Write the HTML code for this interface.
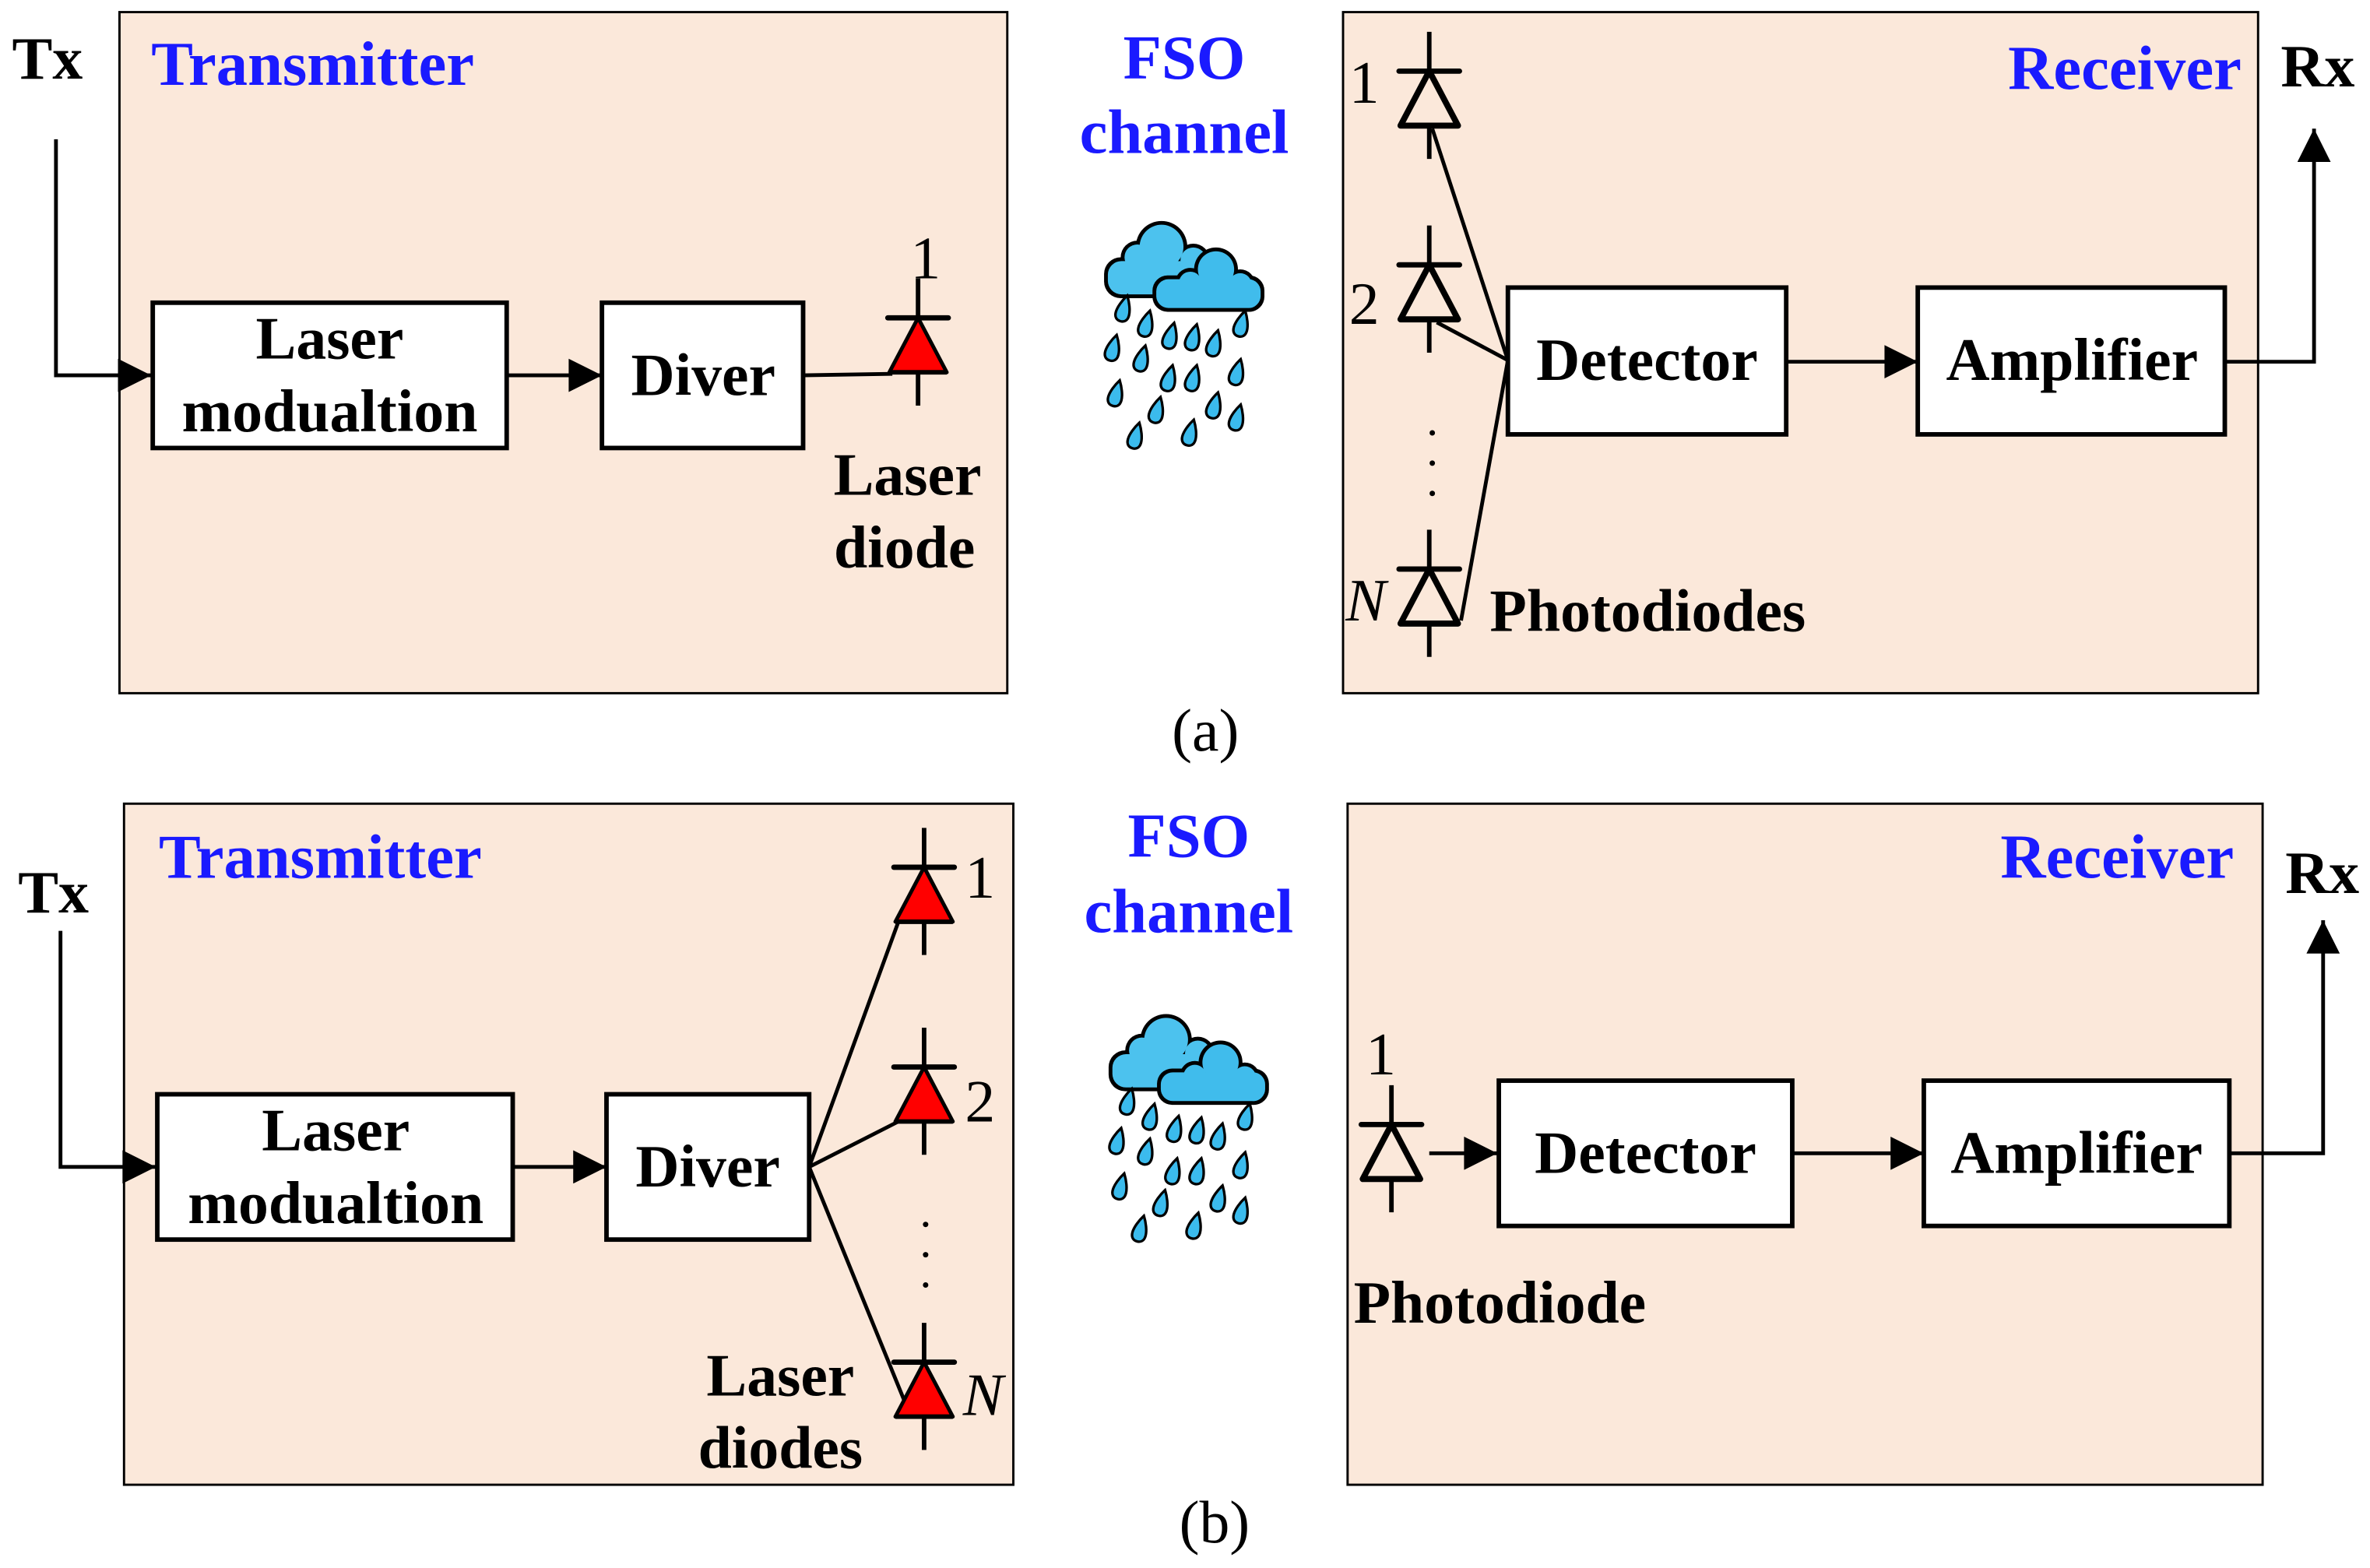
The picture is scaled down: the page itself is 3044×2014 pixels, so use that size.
<!DOCTYPE html>
<html><head><meta charset="utf-8"><style>
html,body{margin:0;padding:0;background:#fff;}
svg{display:block}
text{font-family:"Liberation Serif",serif;}
.b{font-weight:bold;font-size:40px;fill:#000}
.bl{font-weight:bold;font-size:41.5px;fill:#1a1aff}
.n{font-size:40px;fill:#000}
</style></head><body>
<svg width="3044" height="2014" viewBox="0 0 1567 1036" preserveAspectRatio="none" xmlns="http://www.w3.org/2000/svg">
<defs>
<marker id="ah" viewBox="0 0 10 10" refX="10" refY="5" markerWidth="32" markerHeight="22" markerUnits="userSpaceOnUse" orient="auto"><path d="M0,0L10,5L0,10z" fill="#000"/></marker>
<g id="dw"><line x1="0" y1="-26" x2="0" y2="0" stroke="#000" stroke-width="3"/><line x1="-20" y1="0" x2="20" y2="0" stroke="#000" stroke-width="3.5" stroke-linecap="round"/><path d="M0,0L-19,36L19,36z" fill="none" stroke="#000" stroke-width="4" stroke-linejoin="round"/><line x1="0" y1="36" x2="0" y2="58" stroke="#000" stroke-width="3"/></g>
<g id="dr"><line x1="0" y1="-26" x2="0" y2="0" stroke="#000" stroke-width="3"/><path d="M0,0L-19,36L19,36z" fill="#ff0000" stroke="#000" stroke-width="2.5" stroke-linejoin="round"/><line x1="-20" y1="0" x2="20" y2="0" stroke="#000" stroke-width="3.5" stroke-linecap="round"/><line x1="-19" y1="36" x2="19" y2="36" stroke="#000" stroke-width="3"/><line x1="0" y1="36" x2="0" y2="58" stroke="#000" stroke-width="3"/></g>
<g id="drop"><path d="M0,-9 C2.5,-5 4.5,0 4.5,3.5 C4.5,7 2.5,8.5 0,8.5 C-2.5,8.5 -4.5,7 -4.5,3.5 C-4.5,0 -2.5,-5 0,-9z" transform="rotate(15)" fill="#3bbbed" stroke="#000" stroke-width="1.7"/></g>
<g id="cloud">
 <g fill="#000">
  <circle cx="-24" cy="-59" r="17"/><circle cx="-40" cy="-52" r="11"/><circle cx="-50" cy="-40" r="11"/><circle cx="-3" cy="-50" r="11"/><rect x="-62" y="-52" width="70" height="27" rx="11"/>
 </g>
 <g fill="#4cc2ee">
  <circle cx="-24" cy="-59" r="14.5"/><circle cx="-40" cy="-52" r="8.5"/><circle cx="-50" cy="-40" r="8.5"/><circle cx="-3" cy="-50" r="8.5"/><rect x="-59.5" y="-49.5" width="65" height="22" rx="9"/>
 </g>
 <g fill="#000">
  <circle cx="12" cy="-44" r="14.5"/><circle cx="-5" cy="-35" r="10"/><circle cx="28" cy="-34" r="10"/><circle cx="34" cy="-25" r="9"/><rect x="-30" y="-40" width="74" height="24" rx="10"/>
 </g>
 <g fill="#40bcec">
  <circle cx="12" cy="-44" r="12"/><circle cx="-5" cy="-35" r="7.5"/><circle cx="28" cy="-34" r="7.5"/><circle cx="34" cy="-25" r="6.5"/><rect x="-27.5" y="-37.5" width="69" height="19" rx="8"/>
 </g>
 <use href="#drop" x="-49" y="-18"/><use href="#drop" x="-34" y="-8"/><use href="#drop" x="-18" y="0"/><use href="#drop" x="-3" y="1"/><use href="#drop" x="11" y="5"/><use href="#drop" x="29" y="-8"/><use href="#drop" x="-56" y="8"/><use href="#drop" x="-37" y="15"/><use href="#drop" x="-19" y="28"/><use href="#drop" x="-3" y="28"/><use href="#drop" x="26" y="24"/><use href="#drop" x="-54" y="38"/><use href="#drop" x="-27" y="49"/><use href="#drop" x="11" y="46"/><use href="#drop" x="26" y="54"/><use href="#drop" x="-41" y="66"/><use href="#drop" x="-5" y="64"/>
</g>
</defs>

<!-- Panel a -->
<rect x="79" y="8" width="587" height="450" fill="#fbe8da" stroke="#000" stroke-width="1.5"/>
<rect x="888" y="8" width="605" height="450" fill="#fbe8da" stroke="#000" stroke-width="1.5"/>
<text x="8" y="52" class="b">Tx</text>
<text x="100" y="56" class="bl">Transmitter</text>
<path d="M37,92 V248 H100" fill="none" stroke="#000" stroke-width="2.5" marker-end="url(#ah)"/>
<rect x="101" y="200" width="234" height="96" fill="#fff" stroke="#000" stroke-width="3"/>
<text x="218" y="237" class="b" text-anchor="middle">Laser</text>
<text x="218" y="285" class="b" text-anchor="middle">modualtion</text>
<line x1="335" y1="248" x2="398" y2="248" stroke="#000" stroke-width="2.5" marker-end="url(#ah)"/>
<rect x="398" y="200" width="133" height="96" fill="#fff" stroke="#000" stroke-width="3"/>
<text x="465" y="261" class="b" text-anchor="middle">Diver</text>
<line x1="531" y1="248" x2="590" y2="247" stroke="#000" stroke-width="2.5"/>
<use href="#dr" x="607" y="210"/>
<text x="612" y="184" class="n" text-anchor="middle">1</text>
<text x="600" y="327" class="b" text-anchor="middle">Laser</text>
<text x="598" y="375" class="b" text-anchor="middle">diode</text>
<text x="783" y="52" class="bl" text-anchor="middle">FSO</text>
<text x="783" y="101" class="bl" text-anchor="middle">channel</text>
<use href="#cloud" x="792" y="222"/>
<text x="1482" y="59" class="bl" text-anchor="end">Receiver</text>
<text x="1508" y="57" class="b">Rx</text>
<path d="M1472,239 H1530 V85" fill="none" stroke="#000" stroke-width="2.5" marker-end="url(#ah)"/>
<use href="#dw" x="945" y="47"/>
<use href="#dw" x="945" y="175"/>
<use href="#dw" x="945" y="376"/>
<text x="902" y="68" class="n" text-anchor="middle">1</text>
<text x="902" y="214" class="n" text-anchor="middle">2</text>
<text x="903" y="410" class="n" text-anchor="middle" font-style="italic">N</text>
<circle cx="947" cy="286" r="1.8"/><circle cx="947" cy="306" r="1.8"/><circle cx="947" cy="326" r="1.8"/>
<line x1="947" y1="85" x2="997" y2="238" stroke="#000" stroke-width="2.5"/>
<line x1="950" y1="213" x2="997" y2="238" stroke="#000" stroke-width="2.5"/>
<line x1="966" y1="410" x2="997" y2="238" stroke="#000" stroke-width="2.5"/>
<rect x="997" y="190" width="184" height="97" fill="#fff" stroke="#000" stroke-width="3"/>
<text x="1089" y="251" class="b" text-anchor="middle">Detector</text>
<line x1="1181" y1="239" x2="1268" y2="239" stroke="#000" stroke-width="2.5" marker-end="url(#ah)"/>
<rect x="1268" y="190" width="203" height="97" fill="#fff" stroke="#000" stroke-width="3"/>
<text x="1370" y="251" class="b" text-anchor="middle">Amplifier</text>
<text x="985" y="417" class="b">Photodiodes</text>
<text x="797" y="496" class="n" text-anchor="middle">(a)</text>

<!-- Panel b -->
<rect x="82" y="531" width="588" height="450" fill="#fbe8da" stroke="#000" stroke-width="1.5"/>
<rect x="891" y="531" width="605" height="450" fill="#fbe8da" stroke="#000" stroke-width="1.5"/>
<text x="12" y="603" class="b">Tx</text>
<text x="105" y="580" class="bl">Transmitter</text>
<path d="M40,615 V771 H103" fill="none" stroke="#000" stroke-width="2.5" marker-end="url(#ah)"/>
<rect x="104" y="723" width="235" height="96" fill="#fff" stroke="#000" stroke-width="3"/>
<text x="222" y="760" class="b" text-anchor="middle">Laser</text>
<text x="222" y="808" class="b" text-anchor="middle">modualtion</text>
<line x1="339" y1="771" x2="401" y2="771" stroke="#000" stroke-width="2.5" marker-end="url(#ah)"/>
<rect x="401" y="723" width="134" height="96" fill="#fff" stroke="#000" stroke-width="3"/>
<text x="468" y="784" class="b" text-anchor="middle">Diver</text>
<line x1="535" y1="771" x2="594" y2="609" stroke="#000" stroke-width="2.5"/>
<line x1="535" y1="771" x2="594" y2="741" stroke="#000" stroke-width="2.5"/>
<line x1="535" y1="771" x2="601" y2="933" stroke="#000" stroke-width="2.5"/>
<use href="#dr" x="611" y="573"/>
<use href="#dr" x="611" y="705"/>
<use href="#dr" x="611" y="900"/>
<text x="648" y="593" class="n" text-anchor="middle">1</text>
<text x="648" y="741" class="n" text-anchor="middle">2</text>
<text x="650" y="935" class="n" text-anchor="middle" font-style="italic">N</text>
<circle cx="612" cy="809" r="1.8"/><circle cx="612" cy="829" r="1.8"/><circle cx="612" cy="849" r="1.8"/>
<text x="516" y="922" class="b" text-anchor="middle">Laser</text>
<text x="516" y="970" class="b" text-anchor="middle">diodes</text>
<text x="786" y="566" class="bl" text-anchor="middle">FSO</text>
<text x="786" y="616" class="bl" text-anchor="middle">channel</text>
<use href="#cloud" x="795" y="746"/>
<text x="1477" y="580" class="bl" text-anchor="end">Receiver</text>
<text x="1511" y="590" class="b">Rx</text>
<path d="M1475,762 H1536 V608" fill="none" stroke="#000" stroke-width="2.5" marker-end="url(#ah)"/>
<use href="#dw" x="920" y="743"/>
<text x="913" y="710" class="n" text-anchor="middle">1</text>
<line x1="945" y1="762" x2="990" y2="762" stroke="#000" stroke-width="2.5" marker-end="url(#ah)"/>
<rect x="991" y="714" width="194" height="96" fill="#fff" stroke="#000" stroke-width="3"/>
<text x="1088" y="775" class="b" text-anchor="middle">Detector</text>
<line x1="1185" y1="762" x2="1272" y2="762" stroke="#000" stroke-width="2.5" marker-end="url(#ah)"/>
<rect x="1272" y="714" width="202" height="96" fill="#fff" stroke="#000" stroke-width="3"/>
<text x="1373" y="775" class="b" text-anchor="middle">Amplifier</text>
<text x="895" y="874" class="b">Photodiode</text>
<text x="803" y="1019" class="n" text-anchor="middle">(b)</text>
</svg>
</body></html>
